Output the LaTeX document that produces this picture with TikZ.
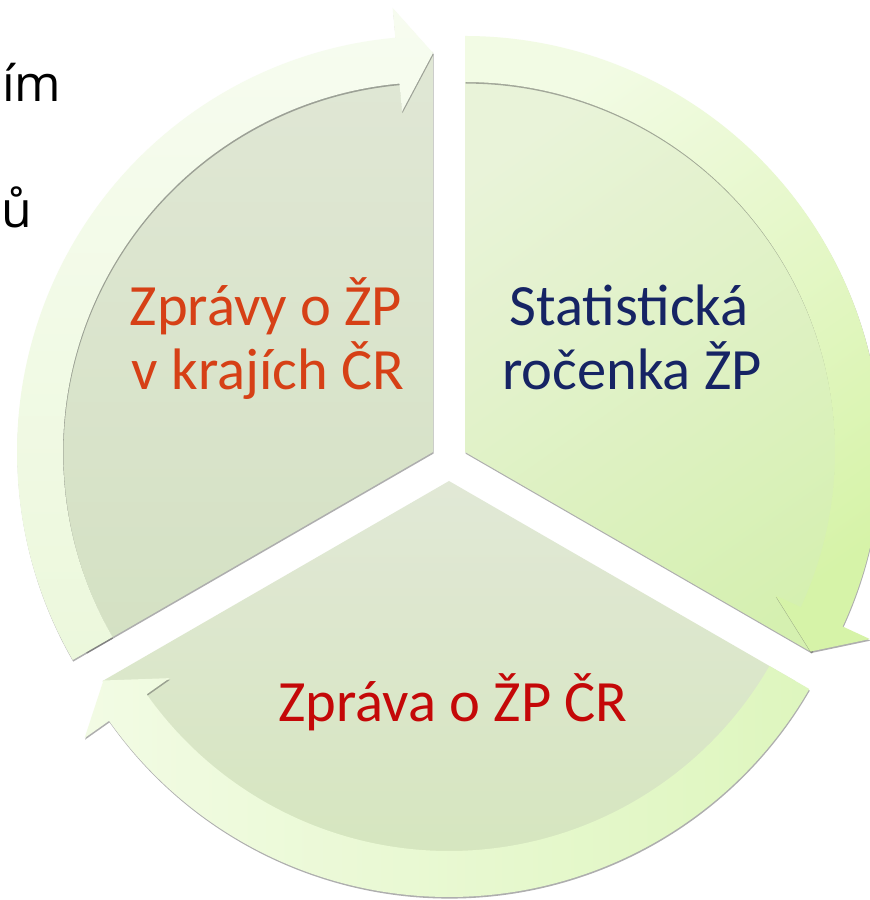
\documentclass[tikz,border=0pt]{standalone}
\usepackage{fontspec}
\setmainfont{Carlito}
\newfontfamily\fragfont{Open Sans}
\usetikzlibrary{shadows}
\definecolor{secTLa}{RGB}{224,231,213}
\definecolor{secTLb}{RGB}{212,225,195}
\definecolor{secTRa}{RGB}{233,243,217}
\definecolor{secTRb}{RGB}{213,240,176}
\definecolor{secBa}{RGB}{225,232,214}
\definecolor{secBb}{RGB}{211,229,186}
\definecolor{ringTLa}{RGB}{247,252,240}
\definecolor{ringTLb}{RGB}{236,248,220}
\definecolor{ringTRa}{RGB}{242,251,228}
\definecolor{ringTRb}{RGB}{214,243,168}
\definecolor{ringBa}{RGB}{242,251,228}
\definecolor{ringBb}{RGB}{222,246,190}
\definecolor{txtTL}{RGB}{214,64,22}
\definecolor{txtTR}{RGB}{22,36,100}
\definecolor{txtB}{RGB}{196,8,8}
\begin{document}
\begin{tikzpicture}[x=1pt,y=1pt,
  shd/.style={drop shadow={shadow xshift=0.5pt, shadow yshift=-1.6pt, opacity=0.45, fill=black!70}},
  lbl/.style={font=\fontsize{58.5}{64}\selectfont, anchor=base, inner sep=0pt},
  frag/.style={font=\fragfont\fontsize{50}{60}\selectfont, anchor=base west, inner sep=0pt, text=black}]
\useasboundingbox (0,0) rectangle (870,900);
\clip (0,0) rectangle (870,900);
\fill[white] (0,0) rectangle (870,900);
\node[frag] (frag1) at (2,798) {ím};
\node[frag] (frag2) at (1,672) {ů};
% top-left segment
\begin{scope}[shift={(433,448)}]
  \path[shd, top color=secTLa, bottom color=secTLb]
    (0,0) -- (90:400pt) arc[start angle=90, end angle=210, radius=400pt] -- cycle;
  \path[shd, top color=ringTLa, bottom color=ringTLb]
    (210:370pt) arc[start angle=210, end angle=95.2, radius=370pt]
    -- (95.2:342pt) -- (90:399pt) -- (95.2:446pt) -- (95.2:416pt)
    arc[start angle=95.2, end angle=210, radius=416pt] -- cycle;
\end{scope}
% top-right segment
\begin{scope}[shift={(465,448)}]
  \path[shd, top color=secTRa, bottom color=secTRb, shading angle=35]
    (0,0) -- (-30:400pt) arc[start angle=-30, end angle=90, radius=400pt] -- cycle;
  \path[shd, top color=ringTRa, bottom color=ringTRb, shading angle=35]
    (90:370pt) arc[start angle=90, end angle=-24.8, radius=370pt]
    -- (-24.8:342pt) -- (-30:399pt) -- (-24.8:446pt) -- (-24.8:416pt)
    arc[start angle=-24.8, end angle=90, radius=416pt] -- cycle;
\end{scope}
% bottom segment
\begin{scope}[shift={(449,419)}]
  \path[shd, top color=secBa, bottom color=secBb]
    (0,0) -- (210:400pt) arc[start angle=210, end angle=330, radius=400pt] -- cycle;
  \path[shd, left color=ringBa, right color=ringBb]
    (330:370pt) arc[start angle=330, end angle=215.2, radius=370pt]
    -- (215.2:342pt) -- (210:399pt) -- (215.2:446pt) -- (215.2:416pt)
    arc[start angle=215.2, end angle=330, radius=416pt] -- cycle;
\end{scope}
\node[lbl, text=txtTL] (tl1) at (266,574) {Zprávy o ŽP};
\node[lbl, text=txtTL] (tl2) at (268,510) {v krajích ČR};
\node[lbl, text=txtTR] (tr1) at (629,574) {Statistická};
\node[lbl, text=txtTR] (tr2) at (632,510) {ročenka ŽP};
\node[lbl, text=txtB] (b1) at (453,178) {Zpráva o ŽP ČR};
\end{tikzpicture}
\end{document}
